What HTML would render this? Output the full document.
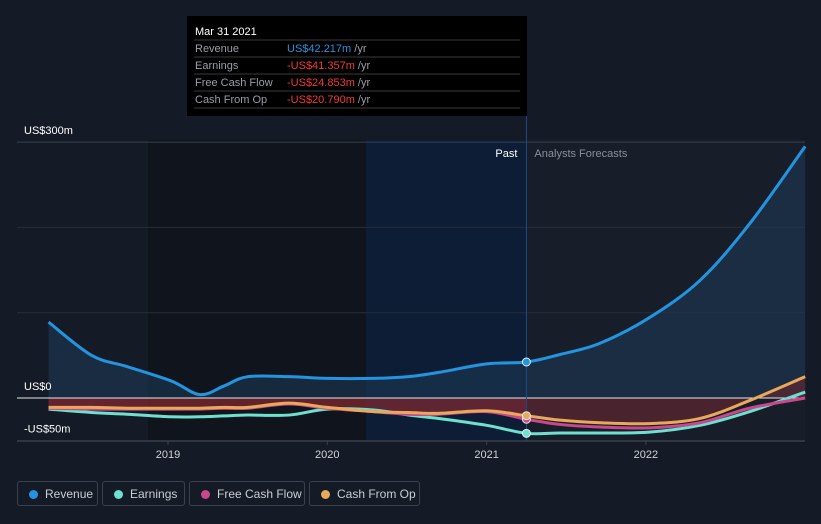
<!DOCTYPE html>
<html><head><meta charset="utf-8"><style>
body{margin:0;background:#151b26;font-family:"Liberation Sans",sans-serif;}
svg text{font-family:"Liberation Sans",sans-serif;}
.leg{position:absolute;top:481px;height:25px;border:1px solid #3a404c;border-radius:3px;color:#c9ccd2;font-size:12px;line-height:25px;box-sizing:border-box;padding-left:27px}
.leg i{position:absolute;left:11px;top:8px;width:9px;height:9px;border-radius:50%}
</style></head><body>
<div style="position:relative;width:821px;height:524px;overflow:hidden">
<svg id="ch" width="821" height="524" style="position:absolute;left:0;top:0"></svg>
<div class="leg" style="left:17px;width:81px"><i style="background:#2394df"></i>Revenue</div>
<div class="leg" style="left:102px;width:83px"><i style="background:#6ee0cf"></i>Earnings</div>
<div class="leg" style="left:189px;width:116px"><i style="background:#c9478a"></i>Free Cash Flow</div>
<div class="leg" style="left:309px;width:111px"><i style="background:#e8a95a"></i>Cash From Op</div>
</div>
<script>
const years=[2018.25,2018.52,2018.74,2019.02,2019.2,2019.35,2019.5,2019.76,2020.0,2020.29,2020.51,2020.7,2021.0,2021.25,2021.46,2021.71,2022.02,2022.34,2022.65,2023.0];
const revenue=[89,50,37,20,4,14,25,25,23,23,25,30,40,42.2,51,64,94,138,204,295];
const earnings=[-13,-17,-19,-22,-22,-21,-20,-20,-13,-14,-20,-24,-32,-41.4,-41,-41,-40,-32,-16,7];
const fcf=[-12,-13,-13,-13,-13,-12,-12,-7,-12,-16,-19,-19,-16,-24.9,-31,-34,-35,-29,-12,0];
const cfo=[-11,-11,-12,-12,-12,-11,-11,-6,-11,-16,-17,-18,-15,-20.8,-26,-29,-30,-24,-3,25];
const yTicks=[300,0,-50];const yTickLabels=["US$300m","US$0","-US$50m"];
const xTicks=[2019,2020,2021,2022];
const X=v=>168+(v-2019)*159.3, Y=v=>398-v*0.853;
const ns="http://www.w3.org/2000/svg",svg=document.getElementById('ch');
function el(t,a,p){const e=document.createElementNS(ns,t);for(const k in a)e.setAttribute(k,a[k]);(p||svg).appendChild(e);return e;}
function path(vals){const p=years.map((y,i)=>[X(y),Y(vals[i])]);let d="M"+p[0];for(let i=0;i<p.length-1;i++){const a=p[i-1]||p[i],b=p[i],c=p[i+1],e=p[i+2]||c;d+=` C${b[0]+(c[0]-a[0])/6},${b[1]+(c[1]-a[1])/6} ${c[0]-(e[0]-b[0])/6},${c[1]-(e[1]-b[1])/6} ${c[0]},${c[1]}`;}return d;}
const xNow=X(2021.25);
let r=el('rect',{x:148,y:140,width:218,height:301,fill:'#10141c'});
r=el('rect',{x:366,y:140,width:xNow-366,height:301,fill:'#0e1d36'});
r=el('rect',{x:xNow,y:140,width:805-xNow,height:301,fill:'#171e2a'});
[300,200,100].forEach(v=>{const g=el('line',{x1:17,x2:805,y1:Y(v),y2:Y(v),stroke:v==300?'#3a404c':'#262d39','stroke-width':1});});
el('clipPath',{id:'past'});el('rect',{x:0,y:0,width:xNow,height:524},svg.lastChild);
el('clipPath',{id:'fut'});el('rect',{x:xNow,y:0,width:400,height:524},svg.lastChild);
let a=el('path',{d:path(revenue)+` L${X(2023)},${Y(0)} L${X(2018.25)},${Y(0)} Z`,fill:'#1d3b58','fill-opacity':0.55});
const lossD=path(cfo)+` L${X(2023)},${Y(0)} L${X(2018.25)},${Y(0)} Z`;
a=el('path',{d:lossD,fill:'#8e2a33','fill-opacity':0.65,'clip-path':'url(#past)'});
a=el('path',{d:lossD,fill:'#6a2630','fill-opacity':0.6,'clip-path':'url(#fut)'});
let z=el('line',{x1:17,x2:805,y1:Y(0),y2:Y(0),stroke:'#e8e8e8','stroke-width':1});
z=el('line',{x1:17,x2:805,y1:441,y2:441,stroke:'#3a404c','stroke-width':1.5});
z=el('line',{x1:xNow,x2:xNow,y1:116,y2:441,stroke:'#1f4a85','stroke-width':1});
const series=[[earnings,'#6ee0cf','earnings'],[fcf,'#c9478a','free-cash-flow'],[cfo,'#e8a95a','cash-from-op'],[revenue,'#2394df','revenue']];
series.forEach(([v,c,n])=>{const l=el('path',{d:path(v),fill:'none',stroke:c,'stroke-width':3});
const d=el('circle',{cx:xNow,cy:Y(v[13]),r:4,fill:c,stroke:'#e8eef5','stroke-width':1});});
yTicks.forEach((v,i)=>{const t=el('text',{x:24,y:Y(v)-8,fill:'#ffffff','font-size':11});t.textContent=yTickLabels[i];});
xTicks.forEach(v=>{const k=el('line',{x1:X(v),x2:X(v),y1:441,y2:445,stroke:'#3a404c'});
const t=el('text',{x:X(v),y:458,fill:'#d0d3d8','font-size':11,'text-anchor':'middle'});t.textContent=v;});
let t=el('text',{x:xNow-9,y:157,fill:'#ffffff','font-size':11,'text-anchor':'end'});t.textContent='Past';
t=el('text',{x:xNow+8,y:157,fill:'#8a8f99','font-size':11});t.textContent='Analysts Forecasts';
const tg=el('g',{});
el('rect',{x:187,y:16,width:340,height:100,fill:'#000'},tg);
t=el('text',{x:195,y:35,fill:'#fff','font-size':11},tg);t.textContent='Mar 31 2021';
const rows=[['Revenue','US$42.217m','#2394df'],['Earnings','-US$41.357m','#f0393d'],['Free Cash Flow','-US$24.853m','#f0393d'],['Cash From Op','-US$20.790m','#f0393d']];
rows.forEach((rw,i)=>{const y=40+i*17;el('line',{x1:194,x2:520,y1:y,y2:y,stroke:'#3a3a3a'},tg);
let a=el('text',{x:195,y:y+12,fill:'#9a9ea6','font-size':11},tg);a.textContent=rw[0];
a=el('text',{x:287,y:y+12,fill:rw[2],'font-size':11},tg);a.textContent=rw[1];
const s=el('tspan',{fill:'#9a9ea6'},a);s.textContent=' /yr';});
el('line',{x1:194,x2:520,y1:108,y2:108,stroke:'#3a3a3a'},tg);
</script>
</body></html>
